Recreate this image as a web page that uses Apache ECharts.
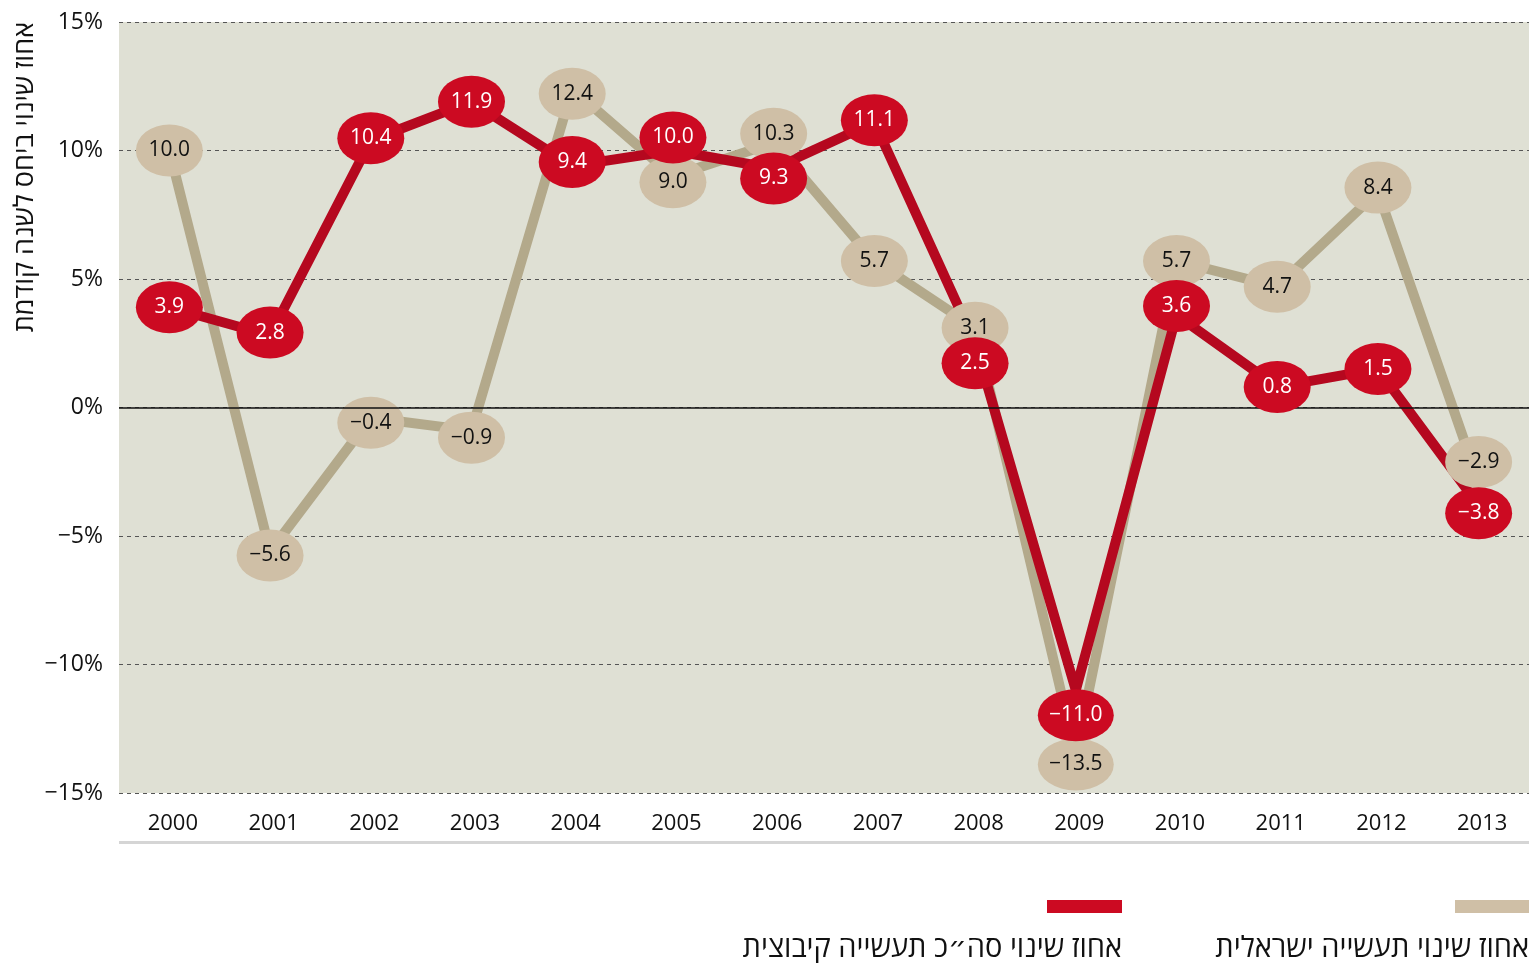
<!DOCTYPE html>
<html>
<head>
<meta charset="utf-8">
<script src="https://cdn.jsdelivr.net/npm/echarts@6/dist/echarts.min.js"></script>
<style>
  html,body{margin:0;padding:0;background:#fff;}
  #J_Main{width:1529px;height:963px;}
</style>
</head>
<body>
<div id="J_Main"></div>
<script>
// years on the x axis
var years = ["2000","2001","2002","2003","2004","2005","2006","2007","2008","2009","2010","2011","2012","2013"];
// percent change, Israeli industry (beige)
var israelValues = [10.0, -5.6, -0.4, -0.9, 12.4, 9.0, 10.3, 5.7, 3.1, -13.5, 5.7, 4.7, 8.4, -2.9];
// percent change, total kibbutz industry (red)
var kibbutzValues = [3.9, 2.8, 10.4, 11.9, 9.4, 10.0, 9.3, 11.1, 2.5, -11.0, 3.6, 0.8, 1.5, -3.8];
var yTicks = [-15, -10, -5, 0, 5, 10, 15];
var israelName = "אחוז שינוי תעשייה ישראלית";
var kibbutzName = "אחוז שינוי סה״כ תעשייה קיבוצית";
var yName = "אחוז שינוי ביחס לשנה קודמת";

// bubble nudges (px) so overlapping bubbles are pushed apart, like the original
var israelNudge = [0, 4, 5, 7, 5, 6, -9, 0, 0, 10, 0, 0, -4, -20];
var kibbutzNudge = [0, -3, -2, 0, -4, -13, 10, -2, 20, 25, -9, 0, 0, 8];

var FONT = "'Open Sans', 'DejaVu Sans', sans-serif";
var BEIGE_LINE = "#b3a98b", BEIGE = "#cfbfa6", RED_LINE = "#b5081f", RED = "#cc0a22";

function fmt(v){
    var s = Math.abs(v).toFixed(1);
    return v < 0 ? "\u2212" + s : s;
}
function bubbleSize(v){
    return [fmt(v).length > 4 ? 76 : 67, 52];
}
function bubbles(values, nudge){
    return values.map(function(v, i){
        return {value: [years[i], v], symbolOffset: [0, nudge[i]]};
    });
}

var viewContainer = document.getElementById("J_Main");
var myChart = echarts.init(viewContainer);

var option = {
    animation: false,
    textStyle: {fontFamily: FONT},
    grid: {
        left: 119,
        right: 0,
        top: 22,
        bottom: 170,
        show: true,
        backgroundColor: "#dfe0d4",
        borderWidth: 0
    },
    xAxis: {
        type: "category",
        data: years,
        boundaryGap: true,
        axisLine: {show: false},
        axisTick: {show: false},
        axisLabel: {
            margin: 20,
            fontSize: 22,
            color: "#111",
            fontFamily: FONT,
            padding: [0, 0, 0, 7]
        },
        splitLine: {show: false}
    },
    yAxis: {
        type: "value",
        min: yTicks[0],
        max: yTicks[yTicks.length - 1],
        interval: 5,
        axisLine: {show: false},
        axisTick: {show: false},
        axisLabel: {
            margin: 16,
            fontSize: 23,
            color: "#111",
            fontFamily: FONT,
            formatter: function(v){ return (v < 0 ? "\u2212" + Math.abs(v) : v) + "%"; }
        },
        splitLine: {
            show: true,
            lineStyle: {color: "#555", type: [4, 4], width: 1}
        }
    },
    series: [{
        name: israelName,
        type: "line",
        data: israelValues,
        z: 2,
        symbol: "none",
        lineStyle: {color: BEIGE_LINE, width: 10},
        markLine: {
            silent: true,
            symbol: "none",
            label: {show: false},
            lineStyle: {color: "#111", type: "solid", width: 1.5},
            data: [{yAxis: 0}]
        }
    }, {
        name: kibbutzName,
        type: "line",
        data: kibbutzValues,
        z: 3,
        symbol: "none",
        lineStyle: {color: RED_LINE, width: 10}
    }, {
        name: israelName,
        type: "scatter",
        data: bubbles(israelValues, israelNudge),
        z: 4,
        symbol: "circle",
        symbolSize: function(v){ return bubbleSize(v[1]); },
        itemStyle: {color: BEIGE, opacity: 1},
        label: {
            show: true,
            position: "inside",
            fontSize: 21,
            color: "#111",
            fontFamily: FONT,
            padding: [3, 0, 0, 0],
            formatter: function(p){ return fmt(p.value[1]); }
        }
    }, {
        name: kibbutzName,
        type: "scatter",
        data: bubbles(kibbutzValues, kibbutzNudge),
        z: 5,
        symbol: "circle",
        symbolSize: function(v){ return bubbleSize(v[1]); },
        itemStyle: {color: RED, opacity: 1},
        label: {
            show: true,
            position: "inside",
            fontSize: 21,
            color: "#fff",
            fontFamily: FONT,
            padding: [3, 0, 0, 0],
            formatter: function(p){ return fmt(p.value[1]); }
        }
    }],
    graphic: [
        {type: "rect", left: 119, top: 841, shape: {width: 1410, height: 3}, style: {fill: "#d5d5d5"}, silent: true},
        {type: "text", x: 25, y: 22, rotation: Math.PI / 2,
            style: {text: yName, fontSize: 27, fill: "#111", fontFamily: FONT, align: "right", verticalAlign: "middle"}},
        {type: "rect", right: 0, top: 900, shape: {width: 74, height: 13}, style: {fill: BEIGE}},
        {type: "text", right: 0, top: 934, style: {text: israelName, fontSize: 29, fill: "#111", fontFamily: FONT, align: "right"}},
        {type: "rect", left: 1047, top: 900, shape: {width: 75, height: 13}, style: {fill: RED}},
        {type: "text", right: 407, top: 934, style: {text: kibbutzName, fontSize: 29, fill: "#111", fontFamily: FONT, align: "right"}}
    ]
};
myChart.setOption(option);
</script>
</body>
</html>
